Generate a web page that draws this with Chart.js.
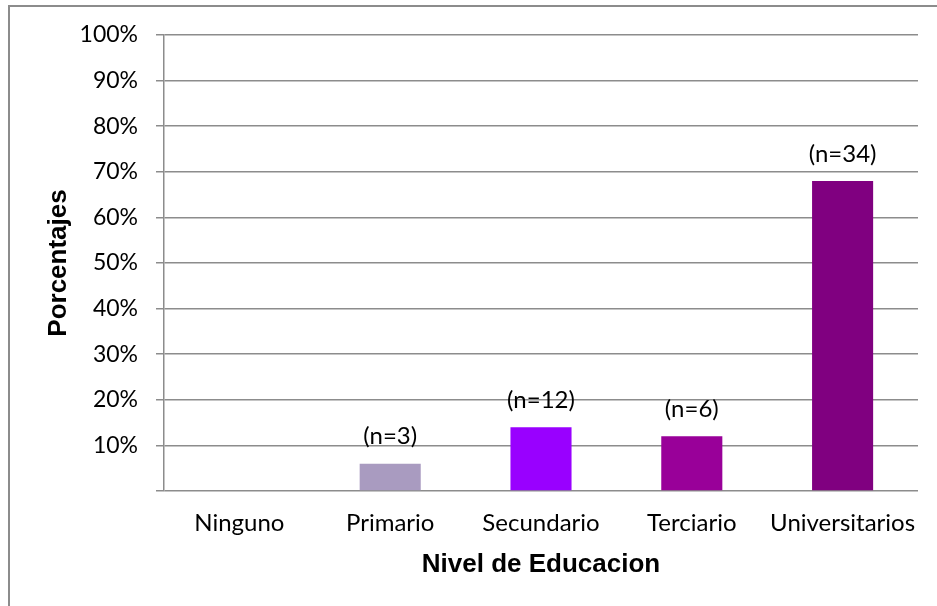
<!DOCTYPE html>
<html>
<head>
<meta charset="utf-8">
<script src="https://cdn.jsdelivr.net/npm/chart.js@4/dist/chart.umd.min.js"></script>
<style>
  html, body { margin: 0; padding: 0; background: #fff; }
  #wrap { position: relative; width: 937px; height: 606px; overflow: hidden; }
  #frame { position: absolute; left: 8px; top: 5px; width: 1000px; height: 700px;
           border-left: 2px solid #8c8c8c; border-top: 2px solid #8c8c8c; box-sizing: border-box; }
  canvas { position: absolute; left: 0; top: 0; }
</style>
</head>
<body>
<div id="wrap">
  <div id="frame"></div>
  <canvas id="c" width="937" height="606"></canvas>
</div>
<script>
const categories = ['Ninguno', 'Primario', 'Secundario', 'Terciario', 'Universitarios'];
const percentages = [0, 6, 14, 12, 68];
const countLabels = ['', '(n=3)', '(n=12)', '(n=6)', '(n=34)'];
const barColors = ['#a99bc0', '#a99bc0', '#9900ff', '#990099', '#800080'];
const yTicks = [0, 10, 20, 30, 40, 50, 60, 70, 80, 90, 100];

const LABEL_FONT = 'Lato, "Noto Sans", sans-serif';
const TITLE_FONT = '"Liberation Sans", Arial, sans-serif';

const countLabelPlugin = {
  id: 'countLabels',
  afterDatasetsDraw(chart) {
    const ctx = chart.ctx;
    const meta = chart.getDatasetMeta(0);
    ctx.save();
    ctx.font = '24px ' + LABEL_FONT;
    ctx.fillStyle = '#000';
    ctx.textAlign = 'center';
    ctx.textBaseline = 'middle';
    meta.data.forEach((bar, i) => {
      const t = countLabels[i];
      if (!t) return;
      ctx.fillText(t, bar.x, bar.y - 27);
    });
    ctx.restore();
  }
};

new Chart(document.getElementById('c'), {
  type: 'bar',
  data: {
    labels: categories,
    datasets: [{
      data: percentages,
      backgroundColor: barColors,
      borderWidth: 0,
      categoryPercentage: 1,
      barPercentage: 0.405
    }]
  },
  options: {
    responsive: false,
    animation: false,
    devicePixelRatio: 1,
    layout: { padding: { left: 43, top: 35, right: 19, bottom: 26 } },
    plugins: { legend: { display: false }, tooltip: { enabled: false } },
    scales: {
      x: {
        grid: { display: false, drawTicks: false },
        border: { display: false },
        ticks: { color: '#000', font: { family: LABEL_FONT, size: 24 }, padding: 18, maxRotation: 0 },
        title: {
          display: true, text: 'Nivel de Educacion', color: '#000',
          font: { family: TITLE_FONT, size: 26, weight: 'bold' }, padding: 0
        },
        afterFit(scale) { scale.height = 606 - 491 - 26; }
      },
      y: {
        min: 0, max: 100,
        afterBuildTicks(scale) { scale.ticks = yTicks.map(v => ({ value: v })); },
        ticks: {
          color: '#000', font: { family: LABEL_FONT, size: 23 }, padding: 18,
          callback: (v) => v === 0 ? '' : v + '%'
        },
        grid: { color: '#8c8c8c', lineWidth: 1.5, tickLength: 8, drawTicks: true },
        border: { display: true, color: '#8c8c8c', width: 1.5 },
        title: {
          display: true, text: 'Porcentajes', color: '#000',
          font: { family: TITLE_FONT, size: 26, weight: 'bold' }, padding: 0
        },
        afterFit(scale) { scale.width = 164 - 43; }
      }
    }
  },
  plugins: [countLabelPlugin]
});
</script>
</body>
</html>
